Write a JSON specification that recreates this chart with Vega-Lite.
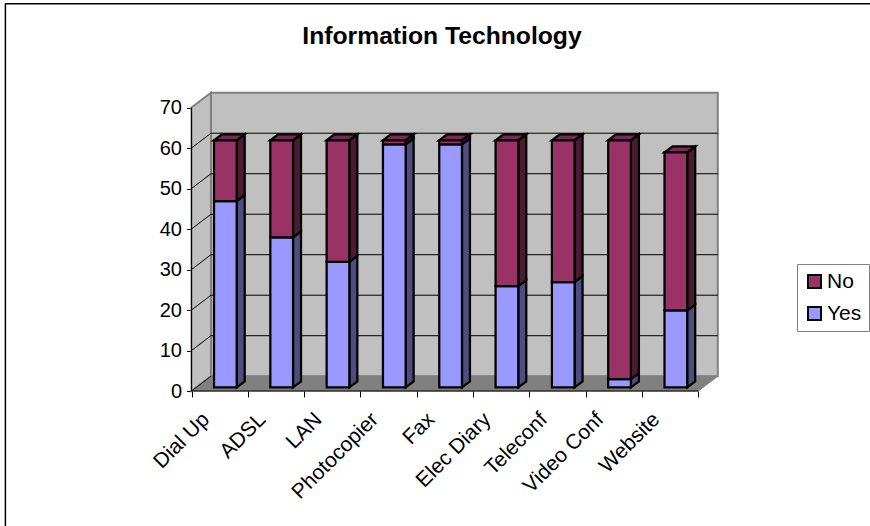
{
  "$schema": "https://vega.github.io/schema/vega-lite/v6.json",
  "width": 870,
  "height": 526,
  "padding": 0,
  "autosize": "none",
  "background": "white",
  "config": {
    "view": {"stroke": null},
    "font": "Liberation Sans",
    "axis": {"grid": false, "domain": false, "title": null, "labelFont": "Liberation Sans", "labelFontSize": 20, "labelColor": "#000000"}
  },
  "title": {"text": "Information Technology", "font": "Liberation Sans", "fontSize": 24.7, "fontWeight": "bold", "color": "#000000", "anchor": "middle", "dx": 7, "offset": -49},
  "datasets": {
    "survey": [
      {"category": "Dial Up", "series": "Yes", "value": 46},
      {"category": "Dial Up", "series": "No", "value": 15},
      {"category": "ADSL", "series": "Yes", "value": 37},
      {"category": "ADSL", "series": "No", "value": 24},
      {"category": "LAN", "series": "Yes", "value": 31},
      {"category": "LAN", "series": "No", "value": 30},
      {"category": "Photocopier", "series": "Yes", "value": 60},
      {"category": "Photocopier", "series": "No", "value": 1},
      {"category": "Fax", "series": "Yes", "value": 60},
      {"category": "Fax", "series": "No", "value": 1},
      {"category": "Elec Diary", "series": "Yes", "value": 25},
      {"category": "Elec Diary", "series": "No", "value": 36},
      {"category": "Teleconf", "series": "Yes", "value": 26},
      {"category": "Teleconf", "series": "No", "value": 35},
      {"category": "Video Conf", "series": "Yes", "value": 2},
      {"category": "Video Conf", "series": "No", "value": 59},
      {"category": "Website", "series": "Yes", "value": 19},
      {"category": "Website", "series": "No", "value": 39}
    ],
    "gridlevels": [{"level": 0}, {"level": 10}, {"level": 20}, {"level": 30}, {"level": 40}, {"level": 50}, {"level": 60}, {"level": 70}],
    "ends": [{"end": 0}, {"end": 1}]
  },
  "resolve": {"scale": {"x": "independent"}, "axis": {"x": "independent"}},
  "layer": [
    {
      "layer": [
        {
          "description": "Left wall of the box",
          "data": {"name": "ends"},
          "mark": {"type": "area", "fill": "#C0C0C0", "stroke": "#808080", "strokeWidth": 2, "clip": false},
          "transform": [{"calculate": "datum.end * 0.346", "as": "wx"}, {"calculate": "datum.end * 3.65", "as": "wy"}, {"calculate": "70 + datum.end * 3.65", "as": "wy2"}],
          "encoding": {
            "x": {"field": "wx", "type": "quantitative", "scale": {"domain": [0, 9], "range": [191.5, 698.3], "nice": false, "zero": false}, "axis": null},
            "y": {"field": "wy", "type": "quantitative", "scale": {"domain": [0, 70], "range": [391, 107.5], "nice": false, "zero": false}, "axis": {"values": [0, 10, 20, 30, 40, 50, 60, 70], "orient": "left", "offset": -191.5, "tickSize": 5, "tickColor": "#000000", "tickWidth": 1, "labelPadding": 5}},
            "y2": {"field": "wy2"}
          }
        },
        {
          "description": "Back wall",
          "data": {"values": [{"x0": 0.346, "x1": 9.346, "y0": 3.65, "y1": 73.65}]},
          "mark": {"type": "rect", "fill": "#C0C0C0", "stroke": "#808080", "strokeWidth": 2},
          "encoding": {
            "x": {"field": "x0", "type": "quantitative"},
            "x2": {"field": "x1"},
            "y": {"field": "y0", "type": "quantitative"},
            "y2": {"field": "y1"}
          }
        },
        {
          "description": "Floor",
          "data": {"name": "ends"},
          "mark": {"type": "area", "orient": "horizontal", "fill": "#808080", "stroke": "#808080", "strokeWidth": 1},
          "transform": [{"calculate": "datum.end * 0.346", "as": "fx"}, {"calculate": "9 + datum.end * 0.346", "as": "fx2"}, {"calculate": "datum.end * 3.65", "as": "fy"}],
          "encoding": {
            "x": {"field": "fx", "type": "quantitative"},
            "x2": {"field": "fx2"},
            "y": {"field": "fy", "type": "quantitative"}
          }
        },
        {
          "description": "Horizontal gridlines along the back wall",
          "data": {"name": "gridlevels"},
          "transform": [{"filter": "datum.level > 0 && datum.level < 70"}, {"calculate": "datum.level + 3.65", "as": "gy"}],
          "mark": {"type": "rule", "color": "#000000", "strokeWidth": 1},
          "encoding": {
            "x": {"datum": 0.346, "type": "quantitative"},
            "x2": {"datum": 9.346},
            "y": {"field": "gy", "type": "quantitative"}
          }
        },
        {
          "description": "Diagonal gridlines across the left wall",
          "data": {"name": "gridlevels"},
          "transform": [{"filter": "datum.level < 70"}, {"calculate": "datum.level + 3.65", "as": "gy"}],
          "mark": {"type": "rule", "color": "#000000", "strokeWidth": 1},
          "encoding": {
            "x": {"datum": 0, "type": "quantitative"},
            "x2": {"datum": 0.346},
            "y": {"field": "level", "type": "quantitative"},
            "y2": {"field": "gy"}
          }
        },
        {
          "description": "Front vertical edge of the left wall",
          "data": {"values": [{"from": 0, "to": 70}]},
          "mark": {"type": "rule", "color": "#000000", "strokeWidth": 1},
          "encoding": {
            "x": {"datum": 0, "type": "quantitative"},
            "y": {"field": "from", "type": "quantitative"},
            "y2": {"field": "to"}
          }
        },
        {
          "description": "Front edge of the floor",
          "data": {"values": [{"from": 0, "to": 9}]},
          "mark": {"type": "rule", "color": "#000000", "strokeWidth": 1},
          "encoding": {
            "x": {"field": "from", "type": "quantitative"},
            "x2": {"field": "to"},
            "y": {"datum": 0, "type": "quantitative"}
          }
        },
        {
          "description": "Chart area edge along the top",
          "data": {"values": [{}]},
          "mark": {"type": "rule", "color": "#000000", "strokeWidth": 1.5},
          "encoding": {
            "x": {"datum": -3.31, "type": "quantitative"},
            "x2": {"datum": 12.05},
            "y": {"datum": 95.6, "type": "quantitative"}
          }
        },
        {
          "description": "Chart area edge down the left side",
          "data": {"values": [{}]},
          "mark": {"type": "rule", "color": "#000000", "strokeWidth": 1.5},
          "encoding": {
            "x": {"datum": -3.305, "type": "quantitative"},
            "y": {"datum": 95.6, "type": "quantitative"},
            "y2": {"datum": -33.4}
          }
        },
        {
          "description": "Stacked columns: shaded side, top cap and front face of each segment",
          "data": {"name": "survey"},
          "transform": [
            {"calculate": "indexof(['Dial Up','ADSL','LAN','Photocopier','Fax','Elec Diary','Teleconf','Video Conf','Website'], datum.category)", "as": "slot"},
            {"calculate": "datum.series === 'Yes' ? 0 : 1", "as": "rank"},
            {"stack": "value", "groupby": ["category"], "sort": [{"field": "rank", "order": "ascending"}], "as": ["low", "high"]},
            {"calculate": "datum.slot + 0.4", "as": "left"},
            {"calculate": "datum.slot + 0.803", "as": "right"},
            {"calculate": "datum.low + 0.91", "as": "base"},
            {"calculate": "datum.high + 0.91", "as": "peak"}
          ],
          "layer": [
            {
              "description": "Side faces of the Yes segments",
              "transform": [
                {"filter": "datum.series === 'Yes'"},
                {"calculate": "[0, 1]", "as": "end"},
                {"flatten": ["end"]},
                {"calculate": "datum.right + datum.end * 0.142", "as": "sx"},
                {"calculate": "datum.base + datum.end * 1.48", "as": "sy"},
                {"calculate": "datum.peak + datum.end * 1.48", "as": "sy2"}
              ],
              "mark": {"type": "area", "fill": "#4D4D80", "stroke": "#000000", "strokeWidth": 2.25, "strokeJoin": "miter"},
              "encoding": {
                "x": {"field": "sx", "type": "quantitative"},
                "y": {"field": "sy", "type": "quantitative"},
                "y2": {"field": "sy2"},
                "detail": {"field": "category"}
              }
            },
            {
              "description": "Side faces of the No segments",
              "transform": [
                {"filter": "datum.series === 'No'"},
                {"calculate": "[0, 1]", "as": "end"},
                {"flatten": ["end"]},
                {"calculate": "datum.right + datum.end * 0.142", "as": "sx"},
                {"calculate": "datum.base + datum.end * 1.48", "as": "sy"},
                {"calculate": "datum.peak + datum.end * 1.48", "as": "sy2"}
              ],
              "mark": {"type": "area", "fill": "#4D1A33", "stroke": "#000000", "strokeWidth": 2.25, "strokeJoin": "miter"},
              "encoding": {
                "x": {"field": "sx", "type": "quantitative"},
                "y": {"field": "sy", "type": "quantitative"},
                "y2": {"field": "sy2"},
                "detail": {"field": "category"}
              }
            },
            {
              "description": "Top caps of the finished columns",
              "transform": [
                {"filter": "datum.series === 'No'"},
                {"calculate": "[0, 1]", "as": "end"},
                {"flatten": ["end"]},
                {"calculate": "datum.left + datum.end * 0.142", "as": "tx"},
                {"calculate": "datum.right + datum.end * 0.142", "as": "tx2"},
                {"calculate": "datum.peak + datum.end * 1.48", "as": "ty"}
              ],
              "mark": {"type": "area", "orient": "horizontal", "fill": "#7A2952", "stroke": "#000000", "strokeWidth": 2.25},
              "encoding": {
                "x": {"field": "tx", "type": "quantitative"},
                "x2": {"field": "tx2"},
                "y": {"field": "ty", "type": "quantitative"},
                "detail": {"field": "category"}
              }
            },
            {
              "description": "Front faces, which also carry the legend",
              "mark": {"type": "rect", "stroke": "#000000", "strokeWidth": 2.25},
              "encoding": {
                "x": {"field": "left", "type": "quantitative"},
                "x2": {"field": "right"},
                "y": {"field": "base", "type": "quantitative"},
                "y2": {"field": "peak"},
                "fill": {
                  "field": "series",
                  "type": "nominal",
                  "scale": {"domain": ["No", "Yes"], "range": ["#993366", "#9999FF"]},
                  "legend": {
                    "title": null,
                    "orient": "none",
                    "legendX": 797,
                    "legendY": 264,
                    "symbolType": "square",
                    "symbolSize": 169,
                    "symbolStrokeColor": "#000000",
                    "symbolStrokeWidth": 2,
                    "labelFont": "Liberation Sans",
                    "labelFontSize": 21,
                    "labelColor": "#000000",
                    "labelOffset": 2,
                    "strokeColor": "#808080",
                    "padding": 7,
                    "rowPadding": 10
                  }
                }
              }
            }
          ]
        }
      ]
    },
    {
      "description": "Category axis, with ticks on the band edges and rotated names",
      "data": {"name": "survey"},
      "mark": {"type": "rule", "opacity": 0},
      "encoding": {
        "x": {
          "field": "category",
          "type": "nominal",
          "scale": {"type": "band", "domain": ["Dial Up", "ADSL", "LAN", "Photocopier", "Fax", "Elec Diary", "Teleconf", "Video Conf", "Website"], "range": [191.5, 698.3], "paddingInner": 0, "paddingOuter": 0},
          "axis": {"orient": "bottom", "offset": -135, "tickBand": "extent", "tickSize": 6, "tickColor": "#000000", "labelFontSize": 21, "labelAngle": 315, "labelAlign": "right", "labelBaseline": "middle", "labelPadding": 19, "labelOffset": -14}
        }
      }
    }
  ]
}
